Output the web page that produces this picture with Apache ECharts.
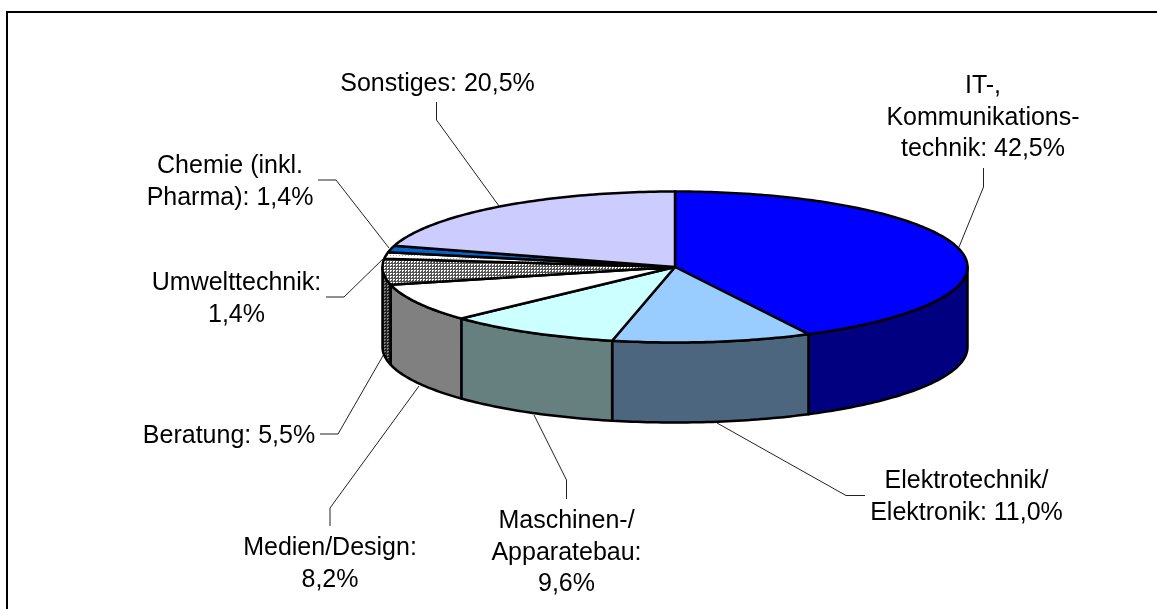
<!DOCTYPE html>
<html>
<head>
<meta charset="utf-8">
<style>html,body{margin:0;padding:0;background:#fff}#chart{width:1157px;height:609px}</style>
<script src="https://cdn.jsdelivr.net/npm/echarts@6/dist/echarts.min.js"></script>
</head>
<body>
<div id="chart"></div>
<script>
// ---- data ----
const categories = ['IT-,\nKommunikations-\ntechnik:', 'Elektrotechnik/\nElektronik:', 'Maschinen-/\nApparatebau:\n',
  'Medien/Design:\n', 'Beratung:', 'Umwelttechnik:\n', 'Chemie (inkl.\nPharma):', 'Sonstiges:'];
const shares = [42.5, 11.0, 9.6, 8.2, 5.5, 1.4, 1.4, 20.5];

// ---- styles ----
const topColors = ['#0000FF', '#99CCFF', '#CCFFFF', '#FFFFFF', 'hatchTop', 'dotTop', '#0066CC', '#CCCCFF'];
const sideColors = ['#000080', '#4D6680', '#668080', '#808080', 'hatchSide', '#808080', '#003366', '#666680'];

// ---- layout ----
const CX = 675, CY = 267, RX = 292.5, RY = 75.5, DEPTH = 80;
const labelX = [983, 966.5, 566.5, 330, 229, 236.5, 230, 437.5];
const labelY = [118, 497, 553, 564, 436, 299, 182, 84];
const leaders = [
  [[983.5, 168], [983.5, 187], [959, 247]],
  [[865, 495.5], [846, 495.5], [717, 423]],
  [[566.5, 499], [566.5, 480], [534, 415]],
  [[330, 526], [330, 508], [419, 386]],
  [[320, 434], [338, 434], [384, 354]],
  [[326, 297], [344, 297], [385, 257]],
  [[318, 180], [336, 180], [389, 248]],
  [[436.5, 102], [436.5, 120], [499, 206]]
];

function pattern(size, bg, fg, cells) {
  const c = document.createElement('canvas');
  c.width = c.height = size;
  const g = c.getContext('2d');
  g.fillStyle = bg; g.fillRect(0, 0, size, size);
  g.fillStyle = fg;
  cells.forEach(p => g.fillRect(p[0], p[1], 1, 1));
  return { image: c, repeat: 'repeat' };
}
const fills = {
  hatchTop: pattern(3, '#555555', '#FFFFFF', [[0, 0], [1, 0], [0, 1]]),
  hatchSide: pattern(3, '#222222', '#808080', [[0, 0], [1, 0], [0, 1]]),
  dotTop: pattern(3, '#FFFFFF', '#AAAAAA', [[0, 0]])
};
const fillOf = c => fills[c] || c;

const total = shares.reduce((a, b) => a + b, 0);
let running = 0;
const seriesData = shares.map((v, i) => {
  const start = running; running += v;
  return [i, start / total * 360, running / total * 360, v];
});

const pt = (deg, dy) => {
  const r = deg * Math.PI / 180;
  return [CX + RX * Math.sin(r), CY - RY * Math.cos(r) + (dy || 0)];
};
function arc(a0, a1, dy) {
  const out = [], n = Math.max(2, Math.ceil(Math.abs(a1 - a0)));
  for (let k = 0; k <= n; k++) out.push(pt(a0 + (a1 - a0) * k / n, dy));
  return out;
}

function renderSide(params, api) {
  const i = api.value(0), a0 = Math.max(api.value(1), 90), a1 = Math.min(api.value(2), 270);
  if (a1 <= a0) return { type: 'group', children: [] };
  return {
    type: 'polygon',
    shape: { points: arc(a0, a1, 0).concat(arc(a1, a0, DEPTH)) },
    style: { fill: fillOf(sideColors[i]), stroke: '#000', lineWidth: 2.5, lineJoin: 'round' }
  };
}
function renderTop(params, api) {
  const i = api.value(0), a0 = api.value(1), a1 = api.value(2);
  return {
    type: 'polygon',
    shape: { points: [[CX, CY]].concat(arc(a0, a1, 0)) },
    style: { fill: fillOf(topColors[i]), stroke: '#000', lineWidth: 2.5, lineJoin: 'round' }
  };
}
function renderLabel(params, api) {
  const i = api.value(0), v = api.value(3);
  const cat = categories[i];
  const text = cat + (cat.endsWith('\n') ? '' : ' ') + v.toFixed(1).replace('.', ',') + '%';
  return {
    type: 'group',
    children: [
      { type: 'polyline', shape: { points: leaders[i] }, style: { fill: 'none', stroke: '#222', lineWidth: 1 } },
      { type: 'text', x: labelX[i], y: labelY[i],
        style: { text: text, fill: '#000', font: '25px "Liberation Sans", Arial, sans-serif',
          lineHeight: 31.5, align: 'center', verticalAlign: 'middle' } }
    ]
  };
}

const chart = echarts.init(document.getElementById('chart'), null, { renderer: 'canvas' });
const base = { type: 'custom', coordinateSystem: 'none', silent: true, animation: false, data: seriesData,
  dimensions: ['idx', 'start', 'end', 'share'] };
chart.setOption({
  backgroundColor: '#fff',
  animation: false,
  graphic: [{ type: 'polyline', silent: true, z: 0,
    shape: { points: [[7, 609], [7, 12], [1157, 12]] }, style: { fill: 'none', stroke: '#000', lineWidth: 2 } }],
  series: [
    Object.assign({}, base, { name: 'side', z: 2, renderItem: renderSide }),
    Object.assign({}, base, { name: 'top', z: 3, renderItem: renderTop }),
    Object.assign({}, base, { name: 'label', z: 1, renderItem: renderLabel })
  ]
});
</script>
</body>
</html>
